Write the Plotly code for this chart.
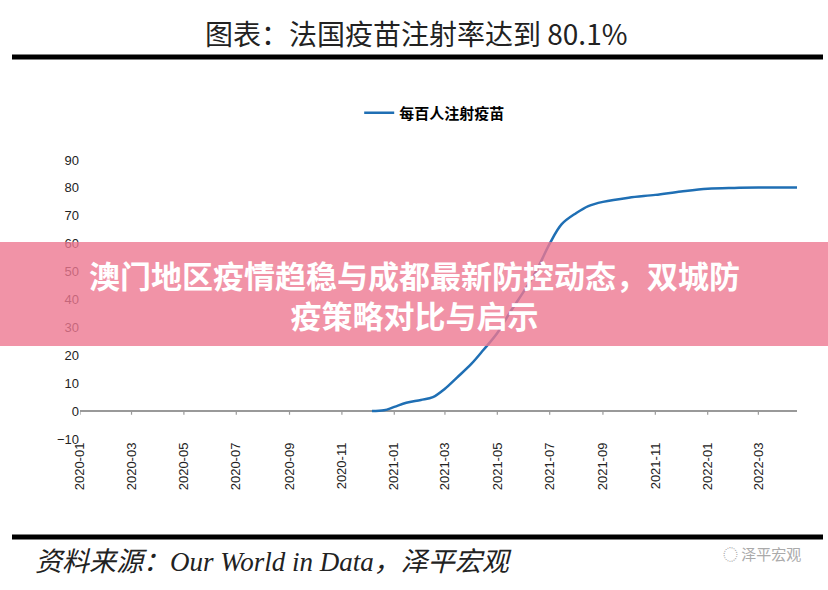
import plotly.graph_objects as go

dates = ["2020-12-06","2020-12-20","2021-01-01","2021-01-15","2021-02-01","2021-02-15","2021-03-01","2021-03-15",
         "2021-04-01","2021-04-15","2021-05-01","2021-05-15","2021-06-01","2021-06-15","2021-07-01","2021-07-15",
         "2021-08-01","2021-08-15","2021-09-01","2021-10-01","2021-11-01","2021-12-01","2022-01-01","2022-02-01",
         "2022-03-01","2022-04-15"]
values = [0, 0.3, 1.5, 3, 4, 5, 8, 12, 17, 22, 28, 35, 43, 50, 60, 67, 71, 73.5, 75, 76.5, 77.5, 78.7, 79.7, 80, 80.1, 80.1]
tick_labels = ["2020-01","2020-03","2020-05","2020-07","2020-09","2020-11","2021-01","2021-03","2021-05","2021-07",
               "2021-09","2021-11","2022-01","2022-03"]
series_name = "每百人注射疫苗"

fig = go.Figure()
fig.add_trace(go.Scatter(x=dates, y=values, mode="lines", name=series_name,
                         line=dict(color="#1f6fb4", width=2.5), line_shape="spline"))
fig.update_layout(
    width=828, height=590, paper_bgcolor="white", plot_bgcolor="white",
    margin=dict(l=0, r=0, t=0, b=0, autoexpand=False),
    showlegend=True,
    legend=dict(x=0.525, y=(590-113)/590, xanchor="center", yanchor="middle", orientation="h",
                font=dict(family="Noto Sans CJK SC", size=15, color="black", weight="bold")),
    font=dict(family="Liberation Sans", color="#222"),
)
fig.update_xaxes(domain=[80/828, 797/828], range=["2020-01-01", "2022-04-15"], type="date", automargin=False,
                 tickvals=[t + "-01" for t in tick_labels], ticktext=tick_labels, tickangle=-90,
                 showgrid=False, zeroline=False, showline=False, ticks="", tickfont=dict(size=13, color="#222"))
fig.update_yaxes(domain=[(590-439)/590, (590-160)/590], range=[-10, 90], dtick=10, automargin=False,
                 showgrid=False, zeroline=True, zerolinecolor="#999", zerolinewidth=1.5,
                 showline=False, ticks="", tickfont=dict(size=13, color="#222"))
for t in tick_labels:
    fig.add_shape(type="line", xref="x", yref="y", x0=t + "-01", x1=t + "-01", y0=0, y1=-1.3,
                  line=dict(color="#999", width=1.2))
fig.add_shape(type="line", xref="paper", yref="paper", x0=12/828, x1=823/828, y0=(590-57)/590, y1=(590-57)/590,
              line=dict(color="black", width=5))
fig.add_shape(type="line", xref="paper", yref="paper", x0=12/828, x1=823/828, y0=(590-537)/590, y1=(590-537)/590,
              line=dict(color="black", width=5))
fig.add_annotation(xref="paper", yref="paper", x=0.502, y=(590-33)/590, yanchor="middle", showarrow=False,
                   text="图表：法国疫苗注射率达到 80.1%", font=dict(family="Noto Sans CJK SC", size=28, color="#222"))
fig.add_annotation(xref="paper", yref="paper", x=33/828, y=(590-562)/590, xanchor="left", yanchor="middle", showarrow=False,
                   text="<i>资料来源：Our World in Data，泽平宏观</i>", font=dict(family="Liberation Serif, Noto Sans CJK SC", size=27, color="#222"))
fig.add_annotation(xref="paper", yref="paper", x=803/828, y=(590-553)/590, xanchor="right", yanchor="middle", showarrow=False,
                   text="◌ 泽平宏观", font=dict(family="Noto Sans CJK SC", size=15, color="#aaa"))
fig.add_shape(type="rect", xref="paper", yref="paper", x0=0, x1=1, y0=(590-346)/590, y1=(590-242)/590,
              fillcolor="rgba(238,120,145,0.8)", line=dict(width=0), layer="above")
fig.add_annotation(xref="paper", yref="paper", x=0.5, y=(590-294)/590, yanchor="middle", showarrow=False,
                   text="澳门地区疫情趋稳与成都最新防控动态，双城防<br>疫策略对比与启示",
                   font=dict(family="Noto Sans CJK SC", size=31, color="white", weight="bold"))
fig.write_html("out.html", config={"displayModeBar": False},
               post_script="document.body.style.margin='0';document.body.style.overflow='hidden';")
